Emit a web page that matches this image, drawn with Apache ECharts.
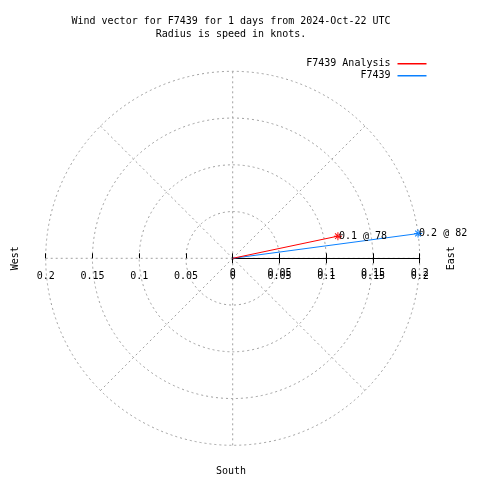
<!DOCTYPE html>
<html>
<head>
<meta charset="utf-8">
<script src="https://cdn.jsdelivr.net/npm/echarts@6/dist/echarts.min.js"></script>
<style>
html,body{margin:0;padding:0;background:#fff;}
#c{width:480px;height:480px;}
</style>
</head>
<body>
<div id="c"></div>
<script>
// ---- data ----
var seriesNames = ['F7439 Analysis', 'F7439'];
var seriesSpeeds = [0.115, 0.2];        // knots
var seriesDirections = [78.1, 82.4];    // degrees, clockwise from north
var seriesColors = ['#ff0000', '#0a80ff'];
var radiusTicks = [0, 0.05, 0.1, 0.15, 0.2];
var compassLabels = ['West', 'East', 'South'];
var titleLines = ['Wind vector for F7439 for 1 days from 2024-Oct-22 UTC', 'Radius is speed in knots.'];

// ---- layout ----
var FONT = 'DejaVu Sans Mono';
var CX = 232.7, CY = 258.3, R = 187;
var rMax = radiusTicks[radiusTicks.length - 1];
var rStep = radiusTicks[1] - radiusTicks[0];

function toPolarAngle(dir) { return ((90 - dir) % 360 + 360) % 360; }
function fmtTick(v) { return String(Math.abs(Math.round(v * 100) / 100)); }

var starPath = 'path://M-4,-0.5L4,-0.5L4,0.5L-4,0.5Z M-0.5,-4L0.5,-4L0.5,4L-0.5,4Z M-3.2,-2.5L-2.5,-3.2L3.2,2.5L2.5,3.2Z M3.2,-2.5L2.5,-3.2L-3.2,2.5L-2.5,3.2Z';

var series = seriesNames.map(function (name, i) {
  var ang = toPolarAngle(seriesDirections[i]);
  return {
    name: name,
    type: 'line',
    coordinateSystem: 'polar',
    polarIndex: 0,
    clip: false,
    color: seriesColors[i],
    lineStyle: { width: 1, color: seriesColors[i] },
    symbol: starPath,
    symbolSize: 8,
    showAllSymbol: true,
    itemStyle: { color: seriesColors[i] },
    animation: false,
    z: 10 - i,
    data: [
      { value: [0, ang], symbol: 'none' },
      {
        value: [seriesSpeeds[i], ang],
        label: {
          show: true,
          position: 'right',
          distance: -3,
          formatter: seriesSpeeds[i].toFixed(1) + ' @ ' + Math.round(seriesDirections[i]),
          fontFamily: FONT,
          fontSize: 10,
          color: '#000'
        }
      }
    ]
  };
});

var option = {
  backgroundColor: '#fff',
  animation: false,
  title: {
    text: titleLines.join('\n'),
    left: 226,
    top: 10.5,
    textAlign: 'center',
    textStyle: { fontFamily: FONT, fontSize: 10, fontWeight: 'normal', color: '#000', lineHeight: 12.7 }
  },
  legend: {
    orient: 'vertical',
    right: 48.5,
    top: 53,
    align: 'right',
    itemWidth: 29,
    itemHeight: 1.5,
    itemGap: 0.5,
    icon: 'rect',
    data: seriesNames,
    textStyle: { fontFamily: FONT, fontSize: 10, color: '#000', lineHeight: 11.5, padding: [0, 2, 0, 0] }
  },
  polar: { center: [CX, CY], radius: R },
  angleAxis: {
    type: 'value', min: 0, max: 360, interval: 45, startAngle: 0, clockwise: false,
    axisLine: { show: false }, axisTick: { show: false }, axisLabel: { show: false },
    splitLine: { show: true, lineStyle: { color: '#a0a0a0', type: [2, 3], width: 1 } }
  },
  radiusAxis: {
    type: 'value', min: 0, max: rMax, interval: rStep,
    axisLine: { show: true, lineStyle: { color: '#000', width: 1 } },
    axisTick: { show: false },
    axisLabel: { show: false },
    splitLine: { show: true, lineStyle: { color: '#a0a0a0', type: [2, 3], width: 1 } },
    z: 5
  },
  grid: [
    { left: CX - R, right: 480 - (CX + R), top: 100, bottom: 480 - CY },
    { left: CX, right: 480 - (CX + R), top: 100, bottom: 480 - CY }
  ],
  xAxis: [
    {
      gridIndex: 0, type: 'value', min: -rMax, max: rMax, interval: rStep,
      axisLine: { show: false, onZero: false },
      splitLine: { show: false },
      axisTick: { show: true, inside: true, length: 5, lineStyle: { color: '#000' } },
      axisLabel: {
        show: true, fontFamily: FONT, fontSize: 10, color: '#000', margin: 13,
        showMinLabel: true, showMaxLabel: true, formatter: fmtTick
      },
      z: 6
    },
    {
      gridIndex: 1, type: 'value', min: 0, max: rMax, interval: rStep,
      axisLine: { show: false, onZero: false },
      splitLine: { show: false },
      axisTick: { show: true, inside: false, length: 5, lineStyle: { color: '#000' } },
      axisLabel: {
        show: true, fontFamily: FONT, fontSize: 10, color: '#000', margin: 10,
        showMinLabel: true, showMaxLabel: true, formatter: fmtTick
      },
      z: 6
    }
  ],
  yAxis: [
    { gridIndex: 0, type: 'value', min: 0, max: 1, show: false },
    { gridIndex: 1, type: 'value', min: 0, max: 1, show: false }
  ],
  graphic: [
    { type: 'text', x: 15, y: CY, rotation: Math.PI / 2, style: { text: compassLabels[0], font: '10px ' + FONT, fill: '#000', align: 'center', verticalAlign: 'middle' } },
    { type: 'text', x: 451, y: CY, rotation: Math.PI / 2, style: { text: compassLabels[1], font: '10px ' + FONT, fill: '#000', align: 'center', verticalAlign: 'middle' } },
    { type: 'text', x: 231, y: 471.5, style: { text: compassLabels[2], font: '10px ' + FONT, fill: '#000', align: 'center', verticalAlign: 'middle' } }
  ],
  series: series
};

var chart = echarts.init(document.getElementById('c'), null, { renderer: 'canvas' });
chart.setOption(option);
</script>
</body>
</html>
